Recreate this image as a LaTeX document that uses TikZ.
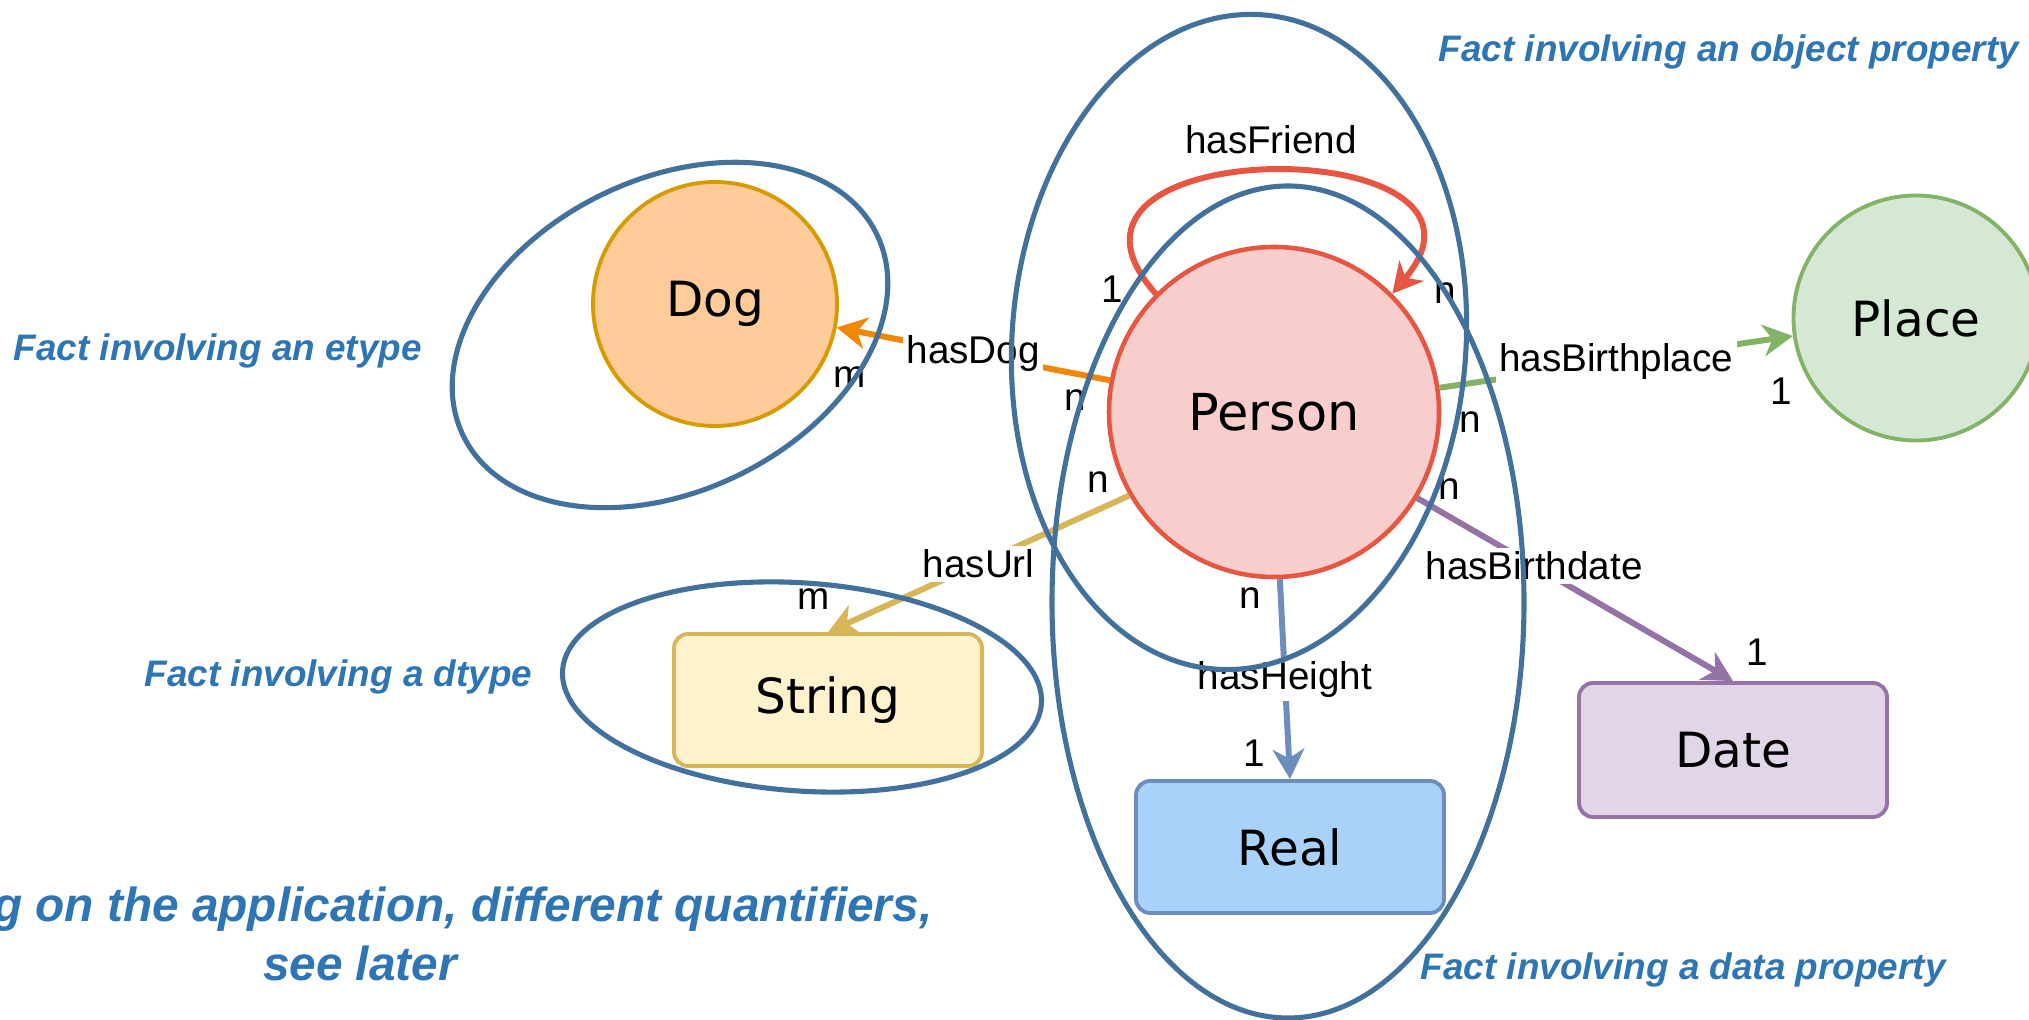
\documentclass[tikz,border=0pt]{standalone}
\usepackage{fontspec}
\setmainfont{Liberation Sans}
\newfontfamily\classfont{DejaVu Sans}
\usetikzlibrary{positioning}
\usetikzlibrary{arrows.meta}

\definecolor{factblue}{HTML}{41719C}
\definecolor{notetext}{HTML}{2E75B6}
\definecolor{personfill}{HTML}{F8CECC}
\definecolor{personline}{HTML}{E85642}
\definecolor{dogfill}{HTML}{FFCC99}
\definecolor{dogline}{HTML}{D79B00}
\definecolor{dogedge}{HTML}{F08705}
\definecolor{placefill}{HTML}{D5E8D4}
\definecolor{placeline}{HTML}{82B366}
\definecolor{stringfill}{HTML}{FFF2CC}
\definecolor{stringline}{HTML}{D6B656}
\definecolor{realfill}{HTML}{A9D2FA}
\definecolor{realline}{HTML}{6C8EBF}
\definecolor{datefill}{HTML}{E1D5E7}
\definecolor{dateline}{HTML}{9673A6}

\tikzset{
	etype/.style={circle,draw,line width=1.1pt,inner sep=0pt,font=\classfont\fontsize{13.8}{16}\selectfont},
	dtype/.style={rectangle,rounded corners=4pt,draw,line width=1.1pt,minimum width=3.08cm,minimum height=1.32cm,font=\classfont\fontsize{13.8}{16}\selectfont},
	prop/.style={line width=1.7pt,-{Stealth[length=8.5pt,width=9pt,inset=2.6pt]}},
	propname/.style={fill=white,text=black,inner sep=1pt,font=\fontsize{11}{13}\selectfont},
	card/.style={inner sep=0pt,font=\fontsize{11}{13}\selectfont},
	fact/.style={draw=factblue,line width=1.45pt},
	factnote/.style={text=notetext,inner sep=0pt,anchor=base west,font=\bfseries\itshape\fontsize{10.5}{12}\selectfont}
}

\begin{document}
\begin{tikzpicture}
	\useasboundingbox (0,0) rectangle (20.29,-10.20);
	\clip (0,0) rectangle (20.29,-10.20);

	\node[etype,fill=personfill,draw=personline,line width=1.3pt,minimum size=3.3cm,font=\classfont\fontsize{14.5}{17}\selectfont] (person) at (12.74,-4.12) {Person};
	\node[etype,fill=dogfill,draw=dogline,minimum size=2.44cm] (dog) at (7.15,-3.04) {Dog};
	\node[etype,fill=placefill,draw=placeline,minimum size=2.45cm] (place) at (19.16,-3.18) {Place};
	\node[dtype,fill=stringfill,draw=stringline] (string) at (8.28,-7.00) {String};
	\node[dtype,fill=realfill,draw=realline] (real) at (12.90,-8.47) {Real};
	\node[dtype,fill=datefill,draw=dateline,minimum height=1.34cm] (date) at (17.33,-7.50) {Date};

	\draw[prop,color=personline] (person.135) .. controls (10.1,-1.3) and (15.3,-1.3) .. (person.45) node[propname,midway,above=3pt] (friendname) {hasFriend};
	\draw[prop,color=dogedge] (person) -- node[propname] (dogname) {hasDog} (dog);
	\draw[prop,color=placeline] (person) -- node[propname] (placename) {hasBirthplace} (place);
	\draw[prop,color=stringline] (person.210) -- node[propname] (urlname) {hasUrl} (string.north);
	\draw[prop,color=realline] (person.-88) -- node[propname] (heightname) {hasHeight} (real.north);
	\draw[prop,color=dateline] (person.-31) -- node[propname,pos=0.37] (datename) {hasBirthdate} (date.north);

	\node[card] (dogn) at (10.75,-4.00) {n};
	\node[card] (dogm) at (8.50,-3.77) {m};
	\node[card] (friendone) at (11.12,-2.89) {1};
	\node[card] (friendn) at (14.45,-2.93) {n};
	\node[card] (placen) at (14.70,-4.22) {n};
	\node[card] (placeone) at (17.81,-3.91) {1};
	\node[card] (urln) at (10.98,-4.82) {n};
	\node[card] (urlm) at (8.14,-5.99) {m};
	\node[card] (heightn) at (12.50,-5.98) {n};
	\node[card] (heightone) at (12.54,-7.53) {1};
	\node[card] (daten) at (14.49,-4.89) {n};
	\node[card] (dateone) at (17.57,-6.52) {1};

	\draw[fact,shift={(6.70,-3.35)},rotate=26] (0,0) ellipse (2.30 and 1.56);
	\draw[fact,shift={(8.02,-6.87)},rotate=-4] (0,0) ellipse (2.40 and 1.04);
	\draw[fact,shift={(12.39,-3.42)},rotate=-4] (0,0) ellipse (2.27 and 3.28);
	\draw[fact] (12.88,-6.02) ellipse (2.36 and 4.16);

	\node[factnote] (objnote) at (14.38,-0.62) {Fact involving an object property};
	\node[factnote] (etypenote) at (0.13,-3.61) {Fact involving an etype};
	\node[factnote] (dtypenote) at (1.44,-6.87) {Fact involving a dtype};
	\node[factnote] (datanote) at (14.20,-9.80) {Fact involving a data property};
	\node[factnote,anchor=base east,font=\bfseries\itshape\fontsize{13.6}{16}\selectfont] (quantnote) at (9.33,-9.22) {g on the application, different quantifiers,};
	\node[factnote,anchor=base,font=\bfseries\itshape\fontsize{13.6}{16}\selectfont] (laternote) at (3.60,-9.81) {see later};
\end{tikzpicture}
\end{document}
